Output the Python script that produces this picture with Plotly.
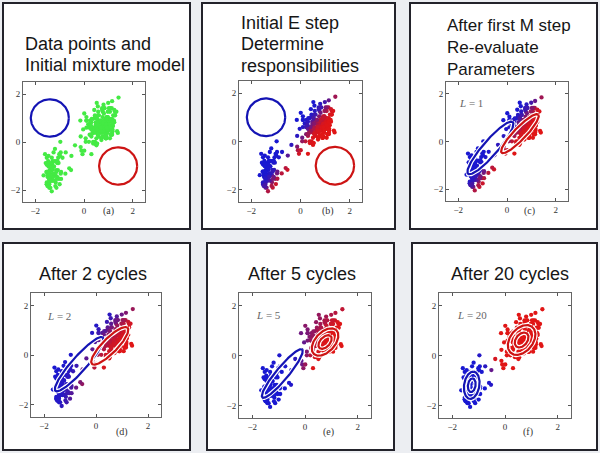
import numpy as np
import plotly.graph_objects as go

W, H = 600, 453

# ---------------- data (Old Faithful: eruption duration, waiting time) ----------------
eruptions = [3.600, 1.800, 3.333, 2.283, 4.533, 2.883, 4.700, 3.600, 1.950, 4.350, 1.833, 3.917, 4.200, 1.750, 4.700, 2.167,
             1.750, 4.800, 1.600, 4.250, 1.800, 1.750, 3.450, 3.067, 4.533, 3.600, 1.967, 4.083, 3.850, 4.433, 4.300, 4.467,
             3.367, 4.033, 3.833, 2.017, 1.867, 4.833, 1.833, 4.783, 4.350, 1.883, 4.567, 1.750, 4.533, 3.317, 3.833, 2.100,
             4.633, 2.000, 4.800, 4.716, 1.833, 4.833, 1.733, 4.883, 3.717, 1.667, 4.567, 4.317, 2.233, 4.500, 1.750, 4.800,
             1.817, 4.400, 4.167, 4.700, 2.067, 4.700, 4.033, 1.967, 4.500, 4.000, 1.983, 5.067, 2.017, 4.567, 3.883, 3.600,
             4.133, 4.333, 4.100, 2.633, 4.067, 4.933, 3.950, 4.517, 2.167, 4.000, 2.200, 4.333, 1.867, 4.817, 1.833, 4.300,
             4.667, 3.750, 1.867, 4.900, 2.483, 4.367, 2.100, 4.500, 4.050, 1.867, 4.700, 1.783, 4.850, 3.683, 4.733, 2.300,
             4.900, 4.417, 1.700, 4.633, 2.317, 4.600, 1.817, 4.417, 2.617, 4.067, 4.250, 1.967, 4.600, 3.767, 1.917, 4.500,
             2.267, 4.650, 1.867, 4.167, 2.800, 4.333, 1.833, 4.383, 1.883, 4.933, 2.033, 3.733, 4.233, 2.233, 4.533, 4.817,
             4.333, 1.983, 4.633, 2.017, 5.100, 1.800, 5.033, 4.000, 2.400, 4.600, 3.567, 4.000, 4.500, 4.083, 1.800, 3.967,
             2.200, 4.150, 2.000, 3.833, 3.500, 4.583, 2.367, 5.000, 1.933, 4.617, 1.917, 2.083, 4.583, 3.333, 4.167, 4.333,
             4.500, 2.417, 4.000, 4.167, 1.883, 4.583, 4.250, 3.767, 2.033, 4.433, 4.083, 1.833, 4.417, 2.183, 4.800, 1.833,
             4.800, 4.100, 3.966, 4.233, 3.500, 4.366, 2.250, 4.667, 2.100, 4.350, 4.133, 1.867, 4.600, 1.783, 4.367, 3.850,
             1.933, 4.500, 2.383, 4.700, 1.867, 3.833, 3.417, 4.233, 2.400, 4.800, 2.000, 4.150, 1.867, 4.267, 1.750, 4.483,
             4.000, 4.117, 4.083, 4.267, 3.917, 4.550, 4.083, 2.417, 4.183, 2.217, 4.450, 1.883, 1.850, 4.283, 3.950, 2.333,
             4.150, 2.350, 4.933, 2.900, 4.583, 3.833, 2.083, 4.367, 2.133, 4.350, 2.200, 4.450, 3.567, 4.500, 4.150, 3.817,
             3.917, 4.450, 2.000, 4.283, 4.767, 4.533, 1.850, 4.250, 1.983, 2.250, 4.750, 4.117, 2.150, 4.417, 1.817, 4.467]
waiting = [79, 54, 74, 62, 85, 55, 88, 85, 51, 85, 54, 84, 78, 47, 83, 52,
           62, 84, 52, 79, 51, 47, 78, 69, 74, 83, 55, 76, 78, 79, 73, 77,
           66, 80, 74, 52, 48, 80, 59, 90, 80, 58, 84, 58, 73, 83, 64, 53,
           82, 59, 75, 90, 54, 80, 54, 83, 71, 64, 77, 81, 59, 84, 48, 82,
           60, 92, 78, 78, 65, 73, 82, 56, 79, 71, 62, 76, 60, 78, 76, 83,
           75, 82, 70, 65, 73, 88, 76, 80, 48, 86, 60, 90, 50, 78, 63, 72,
           84, 75, 51, 82, 62, 88, 49, 83, 81, 47, 84, 52, 86, 81, 75, 59,
           89, 79, 59, 81, 50, 85, 59, 87, 53, 69, 77, 56, 88, 81, 45, 82,
           55, 90, 45, 83, 56, 89, 46, 82, 51, 86, 53, 79, 81, 60, 82, 77,
           76, 59, 80, 49, 96, 53, 77, 77, 65, 81, 71, 70, 81, 93, 53, 89,
           45, 86, 58, 78, 66, 76, 63, 88, 52, 93, 49, 57, 77, 68, 81, 81,
           73, 50, 85, 74, 55, 77, 83, 83, 51, 78, 84, 46, 83, 55, 81, 57,
           76, 84, 77, 81, 87, 77, 51, 78, 60, 82, 91, 53, 78, 46, 77, 84,
           49, 83, 71, 80, 49, 75, 64, 76, 53, 94, 55, 76, 50, 82, 54, 75,
           78, 79, 78, 78, 70, 79, 70, 54, 86, 50, 90, 54, 54, 77, 79, 64,
           75, 47, 86, 63, 85, 82, 57, 82, 67, 74, 54, 83, 73, 73, 88, 80,
           71, 83, 56, 79, 78, 84, 58, 83, 43, 60, 75, 81, 46, 90, 46, 74]

panel_letters = ["(a)", "(b)", "(c)", "(d)", "(e)", "(f)"]
panel_titles = [["Data points and", "Initial mixture model"],
                ["Initial E step", "Determine", "responsibilities"],
                ["After first M step", "Re-evaluate", "Parameters"],
                ["After 2 cycles"], ["After 5 cycles"], ["After 20 cycles"]]
cycle_labels = [None, None, "1", "2", "5", "20"]
tick_values = [-2, 0, 2]
tick_labels = ["\u22122", "0", "2"]

# Gaussian components shown in each panel (mean, semi-axes of drawn contour, orientation in degrees)
blue_mean_x = [-1.40, -1.40, -0.68, -0.65, -0.86, -1.26]
blue_mean_y = [1.00, 1.00, -0.27, -0.37, -0.72, -1.19]
blue_major = [0.78, 0.78, 1.42, 1.41, 1.22, 0.55]
blue_minor = [0.78, 0.78, 0.31, 0.29, 0.24, 0.29]
blue_angle = [0, 0, 50, 50, 52, 82]
red_mean_x = [1.40, 1.40, 0.53, 0.53, 0.76, 0.63]
red_mean_y = [-1.00, -1.00, 0.33, 0.37, 0.54, 0.62]
red_major = [0.78, 0.78, 1.10, 1.00, 0.64, 0.66]
red_minor = [0.78, 0.78, 0.25, 0.29, 0.38, 0.44]
red_angle = [0, 0, 47, 47, 50, 55]
blue_rings = [1, 1, 1, 1, 1, 2]
red_rings = [1, 1, 1, 1, 2, 2]
# drawn contour, in standard deviations of the component
contour_sigma = [1.3, 1.3, 1.0, 1.0, 1.0, 1.0]
# which panel's parameters determine the point colours (None = uncoloured data)
colour_source = [None, 1, 1, 3, 4, 5]

# ---------------- layout geometry (pixels) ----------------
boxes = [(3, 3, 190, 229), (202, 3, 395, 229), (410, 3, 597, 229),
         (3, 243, 190, 450), (207, 243, 394, 450), (412, 243, 597, 450)]
frames = [(23, 82, 145, 202), (239, 81, 362, 202), (446, 82, 568, 201),
          (31, 293, 161, 417), (239, 293, 371, 418), (439, 293, 571, 418)]
title_pos = [(23, "left", [43.7, 64.7], 18), (239, "left", [22.7, 43.7, 65.7], 18),
             (445, "left", [48], 17), (93, "center", [273.7], 18),
             (302, "center", [273.7], 18), (510, "center", [273.7], 18)]
letter_pos = [(108, 211), (328, 211), (529, 211), (122, 432), (328, 432), (528, 432)]
cycle_pos = [None, None, (457, 103), (45, 316), (254, 315), (455, 315)]


def px(x):
    return x / W


def py(y):
    return 1 - y / H


x = np.array(eruptions, dtype=float)
y = np.array(waiting, dtype=float)
xs = (x - x.mean()) / x.std()
ys = (y - y.mean()) / y.std()
P = np.column_stack([xs, ys])


def cov(major, minor, ang, lev):
    t = np.deg2rad(ang)
    R = np.array([[np.cos(t), -np.sin(t)], [np.sin(t), np.cos(t)]])
    return R @ np.diag([(major / lev) ** 2, (minor / lev) ** 2]) @ R.T


def loggauss(mu, C):
    d = P - np.array(mu)
    inv = np.linalg.inv(C)
    m = np.einsum("ni,ij,nj->n", d, inv, d)
    return -0.5 * m - 0.5 * np.log(np.linalg.det(C))


BLUE_PT = np.array([25, 25, 210])
RED_PT = np.array([225, 22, 22])


def point_colours(k):
    lev = contour_sigma[k]
    lb = loggauss((blue_mean_x[k], blue_mean_y[k]), cov(blue_major[k], blue_minor[k], blue_angle[k], lev))
    lr = loggauss((red_mean_x[k], red_mean_y[k]), cov(red_major[k], red_minor[k], red_angle[k], lev))
    r = 1 / (1 + np.exp(np.clip(lb - lr, -50, 50)))
    cols = []
    for ri in r:
        c = (1 - ri) * BLUE_PT + ri * RED_PT
        cols.append("rgb(%d,%d,%d)" % tuple(int(v) for v in c))
    return cols


def ellipse(mx, my, a, b, ang, scale=1.0):
    t = np.linspace(0, 2 * np.pi, 160)
    th = np.deg2rad(ang)
    ex = a * scale * np.cos(t)
    ey = b * scale * np.sin(t)
    return mx + ex * np.cos(th) - ey * np.sin(th), my + ex * np.sin(th) + ey * np.cos(th)


fig = go.Figure()
shapes = []
annotations = []
layout_axes = {}

for i in range(6):
    n = "" if i == 0 else str(i + 1)
    xa, ya = "x" + n, "y" + n
    x0, y0, x1, y1 = frames[i]
    common = dict(range=[-2.5, 2.5], tickvals=tick_values, ticktext=tick_labels,
                  ticks="inside", ticklen=3, tickcolor="#555", showline=True,
                  linecolor="#666", linewidth=1, mirror="allticks", showgrid=False,
                  zeroline=False, fixedrange=True,
                  tickfont=dict(family="Liberation Serif", size=9, color="#333"))
    layout_axes["xaxis" + n] = dict(domain=[px(x0), px(x1)], anchor=ya, **common)
    layout_axes["yaxis" + n] = dict(domain=[py(y1), py(y0)], anchor=xa, **common)

    # points
    src = colour_source[i]
    cols = "rgb(68,234,68)" if src is None else point_colours(src)
    fig.add_trace(go.Scatter(x=xs, y=ys, mode="markers", xaxis=xa, yaxis=ya,
                             marker=dict(size=4.3, color=cols, line=dict(width=0)),
                             showlegend=False, hoverinfo="skip"))

    # component contours
    comps = [
        (blue_mean_x[i], blue_mean_y[i], blue_major[i], blue_minor[i], blue_angle[i], blue_rings[i], "rgb(20,20,180)"),
        (red_mean_x[i], red_mean_y[i], red_major[i], red_minor[i], red_angle[i], red_rings[i], "rgb(205,20,20)"),
    ]
    for mx, my, a, b, ang, rings, col in comps:
        for s in ([1.0, 0.5][:rings]):
            ex, ey = ellipse(mx, my, a, b, ang, s)
            if i >= 2:
                fig.add_trace(go.Scatter(x=ex, y=ey, mode="lines", xaxis=xa, yaxis=ya,
                                         line=dict(color="white", width=4.5),
                                         showlegend=False, hoverinfo="skip"))
            fig.add_trace(go.Scatter(x=ex, y=ey, mode="lines", xaxis=xa, yaxis=ya,
                                     line=dict(color=col, width=2.2),
                                     showlegend=False, hoverinfo="skip"))

    # box
    bx0, by0, bx1, by1 = boxes[i]
    shapes.append(dict(type="rect", xref="paper", yref="paper", layer="below",
                       x0=px(bx0), x1=px(bx1), y0=py(by1), y1=py(by0),
                       fillcolor="white", line=dict(color="#23232b", width=2)))

    # titles
    tx, anchor, ylines, fsize = title_pos[i]
    if len(ylines) == 1 and len(panel_titles[i]) > 1:
        blocks = [("<br>".join(panel_titles[i]), ylines[0])]
    else:
        blocks = list(zip(panel_titles[i], ylines))
    for line, ty in blocks:
        annotations.append(dict(text=line, xref="paper", yref="paper", x=px(tx), y=py(ty),
                                xanchor=anchor, yanchor="middle", align="left", showarrow=False,
                                font=dict(family="Liberation Sans", size=fsize, color="#161616")))

    # panel letter
    lx, ly = letter_pos[i]
    annotations.append(dict(text=panel_letters[i], xref="paper", yref="paper", x=px(lx), y=py(ly),
                            xanchor="center", yanchor="middle", showarrow=False,
                            font=dict(family="Liberation Serif", size=10, color="#333")))

    # cycle label
    if cycle_labels[i] is not None:
        cx, cy = cycle_pos[i]
        annotations.append(dict(text="<i>L</i> = " + cycle_labels[i], xref="paper", yref="paper",
                                x=px(cx), y=py(cy), xanchor="left", yanchor="middle", showarrow=False,
                                font=dict(family="Liberation Serif", size=11, color="#666")))

fig.update_layout(
    width=W, height=H, margin=dict(l=0, r=0, t=0, b=0),
    paper_bgcolor="#eceef2", plot_bgcolor="white",
    shapes=shapes, annotations=annotations, showlegend=False,
    **layout_axes)

fig.write_html("out.html", config={"displayModeBar": False})
